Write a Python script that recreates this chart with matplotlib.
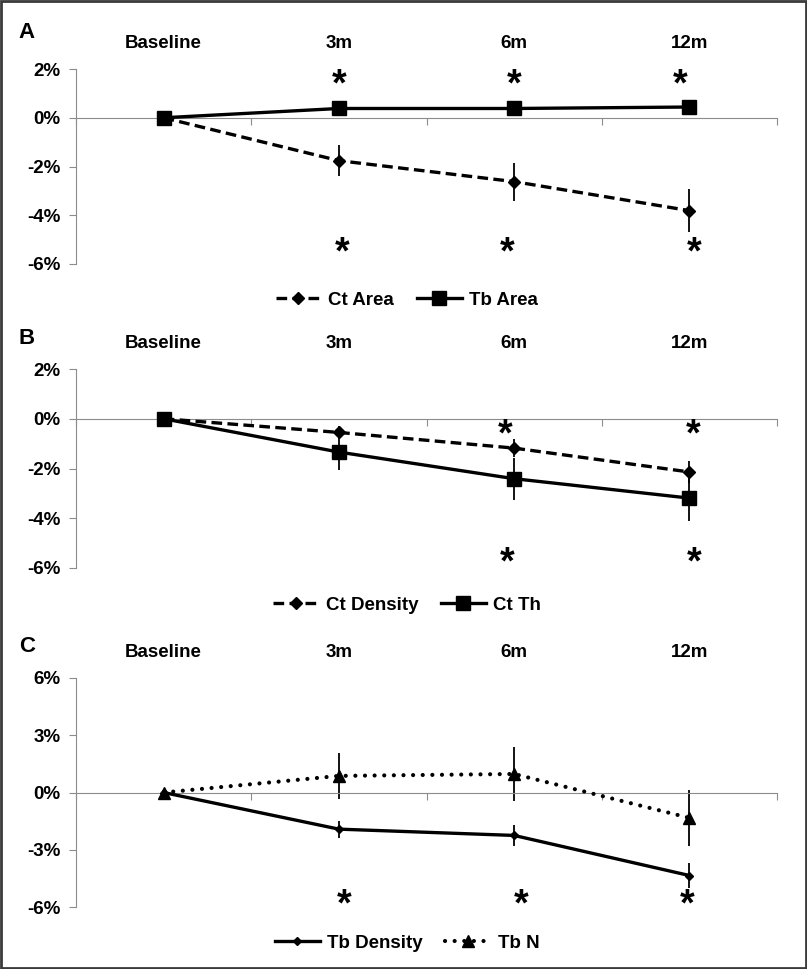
import matplotlib.pyplot as plt
from matplotlib.patches import Rectangle

plt.rcParams['font.family'] = ['Liberation Sans', 'DejaVu Sans']
plt.rcParams['font.weight'] = 'bold'

timepoints = ['Baseline', '3m', '6m', '12m']

# panel A
ct_area = [0, -1.76, -2.62, -3.81]
ct_area_err = [0, 0.63, 0.78, 0.87]
tb_area = [0, 0.38, 0.38, 0.44]
tb_area_err = [0, 0.08, 0.08, 0.08]

# panel B
ct_density = [0, -0.55, -1.18, -2.14]
ct_density_err = [0, 0.27, 0.37, 0.43]
ct_th = [0, -1.34, -2.41, -3.19]
ct_th_err = [0, 0.71, 0.84, 0.91]

# panel C
tb_density = [0, -1.92, -2.25, -4.35]
tb_density_err = [0, 0.45, 0.55, 0.65]
tb_n = [0, 0.87, 0.97, -1.33]
tb_n_err = [0, 1.2, 1.4, 1.45]

ab_ticks = [-6, -4, -2, 0, 2]
ab_labels = ['-6%', '-4%', '-2%', '0%', '2%']
c_ticks = [-6, -3, 0, 3, 6]
c_labels = ['-6%', '-3%', '0%', '3%', '6%']

# significance marks (timepoint index, value)
stars_a = [(1.0, 1.5), (2.0, 1.5), (2.95, 1.5), (1.02, -5.42), (1.96, -5.42), (3.03, -5.42)]
stars_b = [(1.95, -0.5), (3.02, -0.5), (1.96, -5.66), (3.03, -5.66)]
stars_c = [(1.03, -5.7), (2.04, -5.7), (2.99, -5.7)]

W, H = 807, 969
GRAY = '#8c8c8c'
FS = 13.5

fig = plt.figure(figsize=(W / 100, H / 100), dpi=100)


def px_axes(left, top, right, bottom):
    return fig.add_axes([left / W, 1 - bottom / H, (right - left) / W, (bottom - top) / H])


def setup(ax, ticks, labels):
    ax.set_xlim(-0.5, 3.5)
    ax.set_ylim(ticks[0], ticks[-1])
    for s in ['top', 'right']:
        ax.spines[s].set_visible(False)
    ax.spines['left'].set_color(GRAY)
    ax.spines['bottom'].set_color(GRAY)
    ax.spines['bottom'].set_position(('data', 0))
    ax.set_xticks([-0.5, 0.5, 1.5, 2.5, 3.5])
    ax.set_xticklabels([])
    ax.tick_params(axis='x', direction='out', length=5, color=GRAY)
    ax.set_yticks(ticks, labels)
    ax.tick_params(axis='y', direction='out', length=5, color=GRAY, labelsize=FS, pad=6)
    sec = ax.secondary_xaxis('top')
    sec.set_xticks(range(4), timepoints)
    sec.tick_params(length=0, pad=12, labelsize=FS)
    sec.spines['top'].set_visible(False)


def series(ax, vals, err, lw=2.4, **kw):
    x = range(len(vals))
    ax.errorbar(x, vals, yerr=err, fmt='none', ecolor='black', elinewidth=1.3, capsize=0, zorder=2)
    line, = ax.plot(x, vals, color='black', lw=lw, zorder=3, clip_on=False, **kw)
    return line


def stars(ax, marks):
    for xs, ys in marks:
        ax.text(xs, ys, '*', fontsize=27, ha='center', va='center_baseline')


def legend(handles, cy):
    fig.legend(handles, [h.get_label() for h in handles], loc='center',
               bbox_to_anchor=(407 / W, 1 - cy / H), ncol=2, frameon=False,
               fontsize=FS, handlelength=2.4, handletextpad=0.4, columnspacing=1.2)


# A
ax = px_axes(76, 69, 777, 264)
setup(ax, ab_ticks, ab_labels)
h1 = series(ax, ct_area, ct_area_err, dashes=(3.2, 1.6), marker='D', ms=6, label='Ct Area')
h2 = series(ax, tb_area, tb_area_err, marker='s', ms=10.5, label='Tb Area')
stars(ax, stars_a)
legend([h1, h2], 300)

# B
ax = px_axes(76, 369, 777, 568)
setup(ax, ab_ticks, ab_labels)
h1 = series(ax, ct_density, ct_density_err, dashes=(3.2, 1.6), marker='D', ms=6, label='Ct Density')
h2 = series(ax, ct_th, ct_th_err, marker='s', ms=10.5, label='Ct Th')
stars(ax, stars_b)
legend([h1, h2], 605)

# C
ax = px_axes(76, 678, 777, 907)
setup(ax, c_ticks, c_labels)
h1 = series(ax, tb_density, tb_density_err, marker='D', ms=4, label='Tb Density')
h2 = series(ax, tb_n, tb_n_err, lw=3.0, dashes=(0.01, 2.3), dash_capstyle='round',
            marker='^', ms=8, label='Tb N')
stars(ax, stars_c)
legend([h1, h2], 943)

for letter, ly in [('A', 33), ('B', 338), ('C', 646)]:
    fig.text(27 / W, 1 - ly / H, letter, fontsize=16, ha='center', va='center')

fig.add_artist(Rectangle((0.001, 0.001), 0.998, 0.998, transform=fig.transFigure,
                         fill=False, edgecolor='#3a3a3a', lw=2))

fig.savefig('out.png', dpi=100)
